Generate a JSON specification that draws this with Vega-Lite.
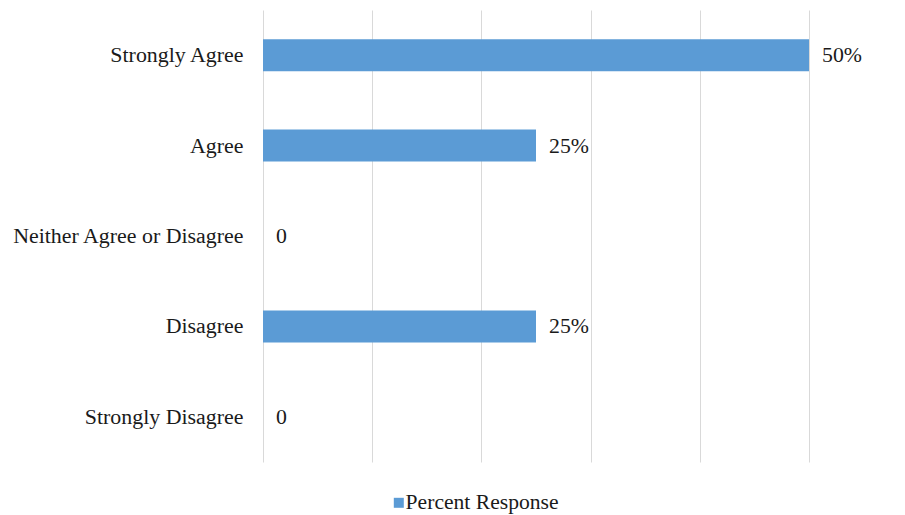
{
  "$schema": "https://vega.github.io/schema/vega-lite/v6.json",
  "width": 546,
  "height": 452,
  "autosize": {"type": "none"},
  "padding": {"left": 263, "top": 10, "right": 96, "bottom": 53},
  "background": "white",
  "data": {
    "values": [
      {"response": "Strongly Agree", "value": 0.5, "label": "50%", "series": "Percent Response"},
      {"response": "Agree", "value": 0.25, "label": "25%", "series": "Percent Response"},
      {"response": "Neither Agree or Disagree", "value": 0, "label": "0", "series": "Percent Response"},
      {"response": "Disagree", "value": 0.25, "label": "25%", "series": "Percent Response"},
      {"response": "Strongly Disagree", "value": 0, "label": "0", "series": "Percent Response"}
    ]
  },
  "encoding": {
    "y": {
      "field": "response",
      "type": "nominal",
      "sort": null,
      "scale": {"paddingInner": 0.646, "paddingOuter": 0.323},
      "axis": {
        "title": null,
        "domain": false,
        "ticks": false,
        "grid": false,
        "labelPadding": 20,
        "labelFont": "Liberation Serif",
        "labelFontSize": 21.9,
        "labelColor": "#1a1a1a",
        "labelLimit": 400
      }
    },
    "x": {
      "field": "value",
      "type": "quantitative",
      "scale": {"domain": [0, 0.5], "nice": false},
      "axis": {
        "title": null,
        "domain": false,
        "ticks": false,
        "labels": false,
        "grid": true,
        "gridColor": "#d9d9d9",
        "gridWidth": 1,
        "values": [0, 0.1, 0.2, 0.3, 0.4, 0.5]
      }
    }
  },
  "layer": [
    {
      "mark": {"type": "bar"},
      "encoding": {
        "color": {
          "field": "series",
          "type": "nominal",
          "scale": {"range": ["#5b9bd5"]},
          "legend": {
            "title": null,
            "orient": "none",
            "legendX": 125,
            "legendY": 482,
            "symbolType": "square",
            "symbolSize": 100,
            "symbolStrokeWidth": 0,
            "labelFont": "Liberation Serif",
            "labelFontSize": 21.6,
            "labelColor": "#1a1a1a",
            "labelOffset": -4,
            "padding": 0,
            "labelLimit": 400
          }
        }
      }
    },
    {
      "mark": {"type": "text", "align": "left", "baseline": "middle", "dx": 13, "font": "Liberation Serif", "fontSize": 21.8, "color": "#1a1a1a"},
      "encoding": {"text": {"field": "label"}}
    }
  ],
  "config": {"view": {"stroke": null}}
}
